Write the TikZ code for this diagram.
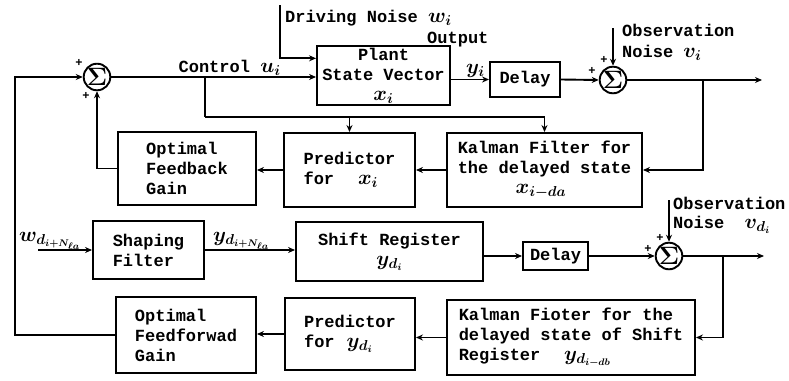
\documentclass[tikz,border=0pt]{standalone}
\usepackage{graphicx}
\usepackage{fontspec}
\setmainfont{Liberation Mono}
\usetikzlibrary{arrows.meta,calc}
\newcommand{\mv}[1]{\scalebox{1.2}{\boldmath$#1$}}
\newcommand{\sgm}{\scalebox{1.45}{\boldmath$\Sigma$}}
\begin{document}
\begin{tikzpicture}[x=1pt,y=-1pt,
  every node/.style={font=\bfseries\fontsize{17}{20}\selectfont},
  box/.style={draw,line width=1.9pt,rectangle,inner sep=2pt,align=left},
  sumnode/.style={draw,circle,line width=1.9pt,inner sep=0pt,minimum size=23pt},
  wire/.style={line width=1.9pt},
  arr/.style={wire,-{Stealth[length=7pt,width=6pt]}},
  lbl/.style={inner sep=0pt},
  sgn/.style={inner sep=0pt,font=\bfseries\fontsize{12}{12}\selectfont}]
\useasboundingbox (0,0) rectangle (789,380);

% ---------- upper loop ----------
\node[sumnode] (sum1) at (97,77) {\sgm};
\node[box,align=center,minimum width=133pt,minimum height=55pt] (plant) at (383.5,75.5) {Plant\\State Vector\\\mv{x_i}};
\node[box,align=center,minimum width=70pt,minimum height=35pt] (delay1) at (525,79.5) {Delay};
\node[sumnode] (sum2) at (613,80) {\sgm};
\node[box,minimum width=138pt,minimum height=73pt] (fbg) at (187,168.5) {Optimal\\Feedback\\Gain};
\node[box,minimum width=131pt,minimum height=74pt] (predx) at (349.5,170) {Predictor\\for\hspace{1.4em}\mv{x_i}};
\node[box,minimum width=195pt,minimum height=74pt] (kalx) at (544.5,170) {Kalman Filter for\\the delayed state\\\hspace*{3.4em}\mv{x_{i-da}}};

\coordinate (dn0) at (280,5);
\coordinate (ctap) at (205,77);
\coordinate (bus) at (205,117);
\coordinate (on1) at (613,28);
\coordinate (out1) at (762,80);
\coordinate (br1) at (703,80);
\coordinate (lft) at (15,0);

\draw[arr] (sum1.east) -- (sum1 -| plant.west);
\draw[arr] (dn0) |- ($(plant.north west)!0.22!(plant.south west)$);
\draw[wire] (ctap) -- (bus);
\draw[arr] (bus) -| (kalx.north);
\draw[arr] (bus -| predx.north) -- (predx.north);
\draw[arr] (plant.east |- delay1) -- (delay1.west);
\draw[arr] (delay1.east) -- (sum2.west);
\draw[arr] (on1) -- (sum2.north);
\draw[arr] (sum2.east) -- (out1);
\draw[arr] (br1) |- (kalx.east);
\draw[arr] (kalx.west) -- (kalx.west -| predx.east);
\draw[arr] (predx.west) -- (predx.west -| fbg.east);
\draw[arr] (fbg.west) -| (sum1.south);

\node[lbl,anchor=base east] (ctl) at (281,72) {Control \mv{u_i}};
\node[lbl,anchor=base west] (dnl) at (285,22) {Driving Noise \mv{w_i}};
\node[lbl,anchor=base west] (outl) at (427,43) {Output};
\node[lbl,anchor=base west] (yil) at (466,73) {\mv{y_i}};
\node[lbl,anchor=base west] (obs1) at (622,36) {Observation};
\node[lbl,anchor=base west] (nse1) at (622,57) {Noise \mv{v_i}};
\node[sgn] (p1) at (79,63) {+};
\node[sgn] (p2) at (86,96) {+};
\node[sgn] (p3) at (592,71) {+};
\node[sgn] (p4) at (604,60) {+};

% ---------- lower loop ----------
\node[box,minimum width=111pt,minimum height=58pt] (shp) at (148.5,250) {Shaping\\Filter};
\node[box,align=center,minimum width=187pt,minimum height=59pt] (shift) at (389.5,251.5) {Shift Register\\\mv{y_{d_i}}};
\node[box,align=center,minimum width=65pt,minimum height=28pt] (delay2) at (555.5,256) {Delay};
\node[sumnode] (sum3) at (669,256) {\sgm};
\node[box,minimum width=248pt,minimum height=75pt] (kaly) at (571,337.5) {Kalman Fioter for the\\delayed state of Shift\\Register\hspace{1.4em}\mv{y_{d_{i-db}}}};
\node[box,minimum width=130pt,minimum height=72pt] (predy) at (350,334) {Predictor\\for\hspace{0.7em}\mv{y_{d_i}}};
\node[box,minimum width=140pt,minimum height=76pt] (ffg) at (186,335) {Optimal\\Feedforwad\\Gain};

\coordinate (in2) at (38,250);
\coordinate (on2) at (669,200);
\coordinate (out2) at (764,256);
\coordinate (br2) at (723,256);

\draw[arr] (in2) -- (shp.west);
\draw[arr] (shp.east) -- (shp.east -| shift.west);
\draw[arr] (shift.east |- delay2) -- (delay2.west);
\draw[arr] (delay2.east) -- (sum3.west);
\draw[arr] (on2) -- (sum3.north);
\draw[arr] (sum3.east) -- (out2);
\draw[arr] (br2) |- (kaly.east);
\draw[arr] (kaly.west) -- (kaly.west -| predy.east);
\draw[arr] (predy.west) -- (predy.west -| ffg.east);
\draw[arr] (ffg.west) -- (ffg.west -| lft) |- (sum1.west);

\node[lbl,anchor=base west] (win) at (19,241) {\mv{w_{d_{i+N_{\ell a}}}}};
\node[lbl,anchor=base west] (yout) at (213,241) {\mv{y_{d_{i+N_{\ell a}}}}};
\node[lbl,anchor=base west] (obs2) at (673,209) {Observation};
\node[lbl,anchor=base west] (nse2) at (673,228) {Noise\hspace{1.2em}\mv{v_{d_i}}};
\node[sgn] (p5) at (648,249) {+};
\node[sgn] (p6) at (660,238) {+};
\end{tikzpicture}
\end{document}
